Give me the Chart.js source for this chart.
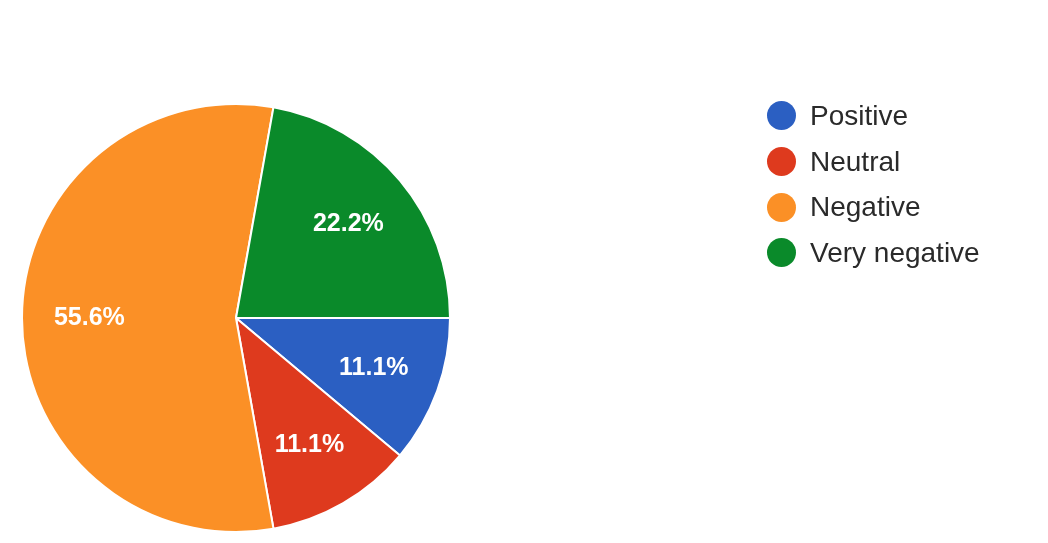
<!DOCTYPE html>
<html>
<head>
<meta charset="utf-8">
<script src="https://cdn.jsdelivr.net/npm/chart.js@4"></script>
<style>
  html, body { margin: 0; padding: 0; background: #fff; }
  #wrap { position: relative; width: 1048px; height: 543px; }
  #legend { position: absolute; left: 767px; top: 93px; font-family: "Liberation Sans", Arial, sans-serif; font-size: 28px; color: #2a2a2a; }
  .item { display: flex; align-items: center; height: 45.7px; }
  .dot { width: 29px; height: 29px; border-radius: 50%; margin-right: 14px; }
</style>
</head>
<body>
<div id="wrap">
  <canvas id="pie" width="1048" height="543"></canvas>
  <div id="legend"></div>
</div>
<script>
const categories = ['Positive', 'Neutral', 'Negative', 'Very negative'];
const shares = [11.1, 11.1, 55.6, 22.2];
const colors = ['#2b5fc2', '#de3a1e', '#fb9026', '#0a8a2a'];

// percentage text inside each slice
const sliceLabels = {
  id: 'sliceLabels',
  afterDatasetsDraw(chart) {
    const ctx = chart.ctx;
    const meta = chart.getDatasetMeta(0);
    ctx.save();
    ctx.font = 'bold 25px "Liberation Sans", Arial, sans-serif';
    ctx.fillStyle = '#fff';
    ctx.textAlign = 'center';
    ctx.textBaseline = 'middle';
    meta.data.forEach((arc, i) => {
      const mid = (arc.startAngle + arc.endAngle) / 2;
      const r = arc.outerRadius * 0.685;
      ctx.fillText(shares[i].toFixed(1) + '%', arc.x + Math.cos(mid) * r, arc.y + Math.sin(mid) * r);
    });
    ctx.restore();
  }
};

new Chart(document.getElementById('pie'), {
  type: 'pie',
  data: {
    labels: categories,
    datasets: [{
      data: shares,
      backgroundColor: colors,
      borderColor: '#fff',
      borderWidth: 2
    }]
  },
  options: {
    responsive: false,
    animation: false,
    rotation: 90,
    layout: { padding: { left: 20, top: 103, right: 596, bottom: 10 } },
    plugins: { legend: { display: false }, tooltip: { enabled: false } }
  },
  plugins: [sliceLabels]
});

const legend = document.getElementById('legend');
categories.forEach((name, i) => {
  const row = document.createElement('div');
  row.className = 'item';
  row.innerHTML = '<span class="dot" style="background:' + colors[i] + '"></span><span>' + name + '</span>';
  legend.appendChild(row);
});
</script>
</body>
</html>
